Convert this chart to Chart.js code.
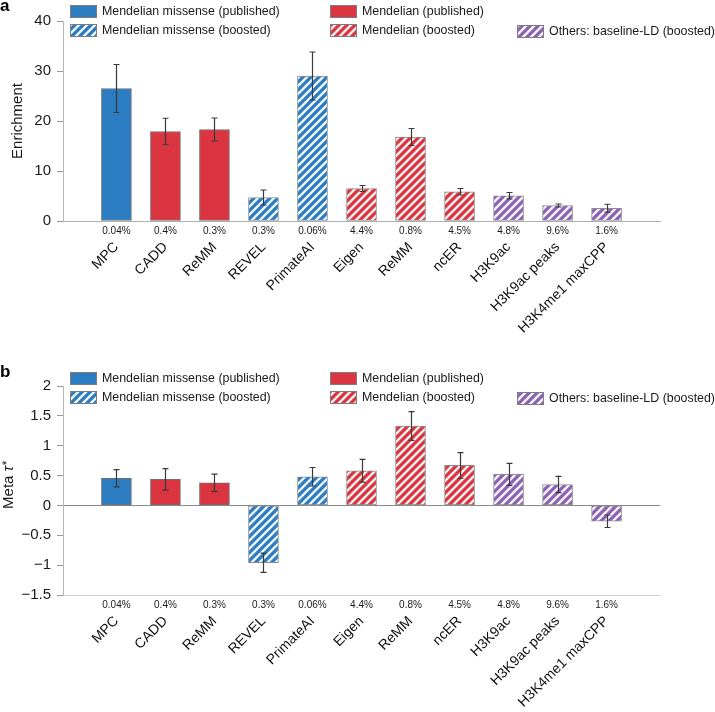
<!DOCTYPE html>
<html>
<head>
<meta charset="utf-8">
<script src="https://cdn.jsdelivr.net/npm/chart.js@4.4.1/dist/chart.umd.min.js"></script>
<style>
  html, body { margin: 0; padding: 0; background: #fff; }
  canvas { display: block; }
</style>
</head>
<body>
<canvas id="chartA" width="715" height="358"></canvas>
<canvas id="chartB" width="715" height="354"></canvas>
<script>
// ---------------- DATA ----------------
const categories = ['MPC', 'CADD', 'ReMM', 'REVEL', 'PrimateAI', 'Eigen', 'ReMM', 'ncER', 'H3K9ac', 'H3K9ac peaks', 'H3K4me1 maxCPP'];
const annotSizes = ['0.04%', '0.4%', '0.3%', '0.3%', '0.06%', '4.4%', '0.8%', '4.5%', '4.8%', '9.6%', '1.6%'];
const groupNames = ['Mendelian missense (published)', 'Mendelian (published)', 'Mendelian missense (boosted)', 'Mendelian (boosted)', 'Others: baseline-LD (boosted)'];
const annotGroup = [0, 1, 1, 2, 2, 3, 3, 3, 4, 4, 4];
const enrichment = [26.5, 17.9, 18.3, 4.7, 29.0, 6.5, 16.8, 5.85, 5.05, 3.1, 2.55];
const enrichmentErr = [4.8, 2.65, 2.3, 1.5, 4.8, 0.6, 1.7, 0.65, 0.65, 0.3, 0.8];
const metaTau = [0.455, 0.435, 0.38, -0.96, 0.48, 0.58, 1.33, 0.67, 0.52, 0.35, -0.265];
const metaTauErr = [0.145, 0.18, 0.145, 0.16, 0.155, 0.19, 0.24, 0.215, 0.185, 0.135, 0.105];
const enrichmentTicks = [0, 10, 20, 30, 40];
const metaTauTicks = [-1.5, -1, -0.5, 0, 0.5, 1, 1.5, 2];

// ---------------- STYLES ----------------
const BLUE = '#2b7cc0', RED = '#da3540', PURPLE = '#8b63b4';
const groupColor = [BLUE, RED, BLUE, RED, PURPLE];
const groupHatched = [false, false, true, true, true];
const FONT = "'Liberation Sans', Arial, Helvetica, sans-serif";

function makeStripe(color) {
  const s = 8;
  const c = document.createElement('canvas');
  c.width = s; c.height = s;
  const g = c.getContext('2d');
  g.fillStyle = color; g.fillRect(0, 0, s, s);
  g.strokeStyle = 'rgba(255,255,255,0.92)';
  g.lineWidth = 2.4;
  g.beginPath();
  g.moveTo(0, s); g.lineTo(s, 0);
  g.moveTo(-s / 2, s / 2); g.lineTo(s / 2, -s / 2);
  g.moveTo(s / 2, s * 1.5); g.lineTo(s * 1.5, s / 2);
  g.stroke();
  return c;
}
const ctxTmp = document.createElement('canvas').getContext('2d');
function groupFill(gi) {
  if (!groupHatched[gi]) return groupColor[gi];
  return ctxTmp.createPattern(makeStripe(groupColor[gi]), 'repeat');
}

const errorBarPlugin = {
  id: 'errorBars',
  afterDatasetsDraw(chart, args, opts) {
    const { ctx } = chart;
    const xs = chart.scales.x, ys = chart.scales.y;
    ctx.save();
    ctx.strokeStyle = '#3a3a3a';
    ctx.lineWidth = 1.2;
    opts.values.forEach((v, i) => {
      const e = opts.errors[i];
      const px = Math.round(xs.getPixelForValue(i)) + 0.5;
      const t = ys.getPixelForValue(v + e), b = ys.getPixelForValue(v - e);
      ctx.beginPath();
      ctx.moveTo(px, t); ctx.lineTo(px, b);
      ctx.moveTo(px - 3, t); ctx.lineTo(px + 3, t);
      ctx.moveTo(px - 3, b); ctx.lineTo(px + 3, b);
      ctx.stroke();
    });
    ctx.restore();
  }
};

const customLegendPlugin = {
  id: 'customLegend',
  afterDraw(chart, args, opts) {
    const { ctx } = chart;
    ctx.save();
    // panel letter
    ctx.fillStyle = '#000';
    ctx.font = 'bold 17px ' + FONT;
    ctx.textBaseline = 'alphabetic';
    ctx.textAlign = 'left';
    ctx.fillText(opts.letter, 0, opts.letterY);
    // legend entries
    const cols = [70, 330, 517];
    const place = [[0, 0], [1, 0], [0, 1], [1, 1], [2, 1]];
    ctx.font = '12.4px ' + FONT;
    chart.data.datasets.forEach((ds, gi) => {
      const [c, r] = place[gi];
      const x = cols[c];
      const y = opts.top + r * 19 + (c === 2 ? 1 : 0);
      ctx.fillStyle = ds.backgroundColor;
      ctx.fillRect(x, y, 27, 13);
      ctx.strokeStyle = '#7d7d7d';
      ctx.lineWidth = 1;
      ctx.strokeRect(x + 0.5, y + 0.5, 26, 12);
      ctx.fillStyle = '#1a1a1a';
      ctx.textBaseline = 'middle';
      ctx.fillText(ds.label, x + 32, y + 7);
    });
    // optional rich y-axis title
    if (opts.yTitle) {
      const yt = opts.yTitle;
      ctx.fillStyle = '#1a1a1a';
      ctx.translate(yt.x, yt.y);
      ctx.rotate(-Math.PI / 2);
      ctx.textBaseline = 'middle';
      ctx.textAlign = 'left';
      ctx.font = '15px ' + FONT;
      const w1 = ctx.measureText('Meta ').width;
      ctx.font = 'italic 15px ' + FONT;
      const w2 = ctx.measureText('τ').width;
      ctx.font = '12px ' + FONT;
      const w3 = ctx.measureText('*').width;
      let x0 = -(w1 + w2 + w3) / 2;
      ctx.font = '15px ' + FONT;
      ctx.fillText('Meta ', x0, 0);
      ctx.font = 'italic 15px ' + FONT;
      ctx.fillText('τ', x0 + w1, 0);
      ctx.font = '12px ' + FONT;
      ctx.fillText('*', x0 + w1 + w2 + 0.5, -1);
    }
    ctx.restore();
  }
};

function buildChart(canvasId, values, errors, yTicks, cfg) {
  const datasets = groupNames.map((name, gi) => ({
    label: name,
    data: annotGroup.map((g, i) => g === gi ? { x: i, y: values[i] } : null).filter(d => d),
    backgroundColor: groupFill(gi),
    borderColor: groupHatched[gi] ? '#8d8d8d' : '#6f6f6f',
    borderWidth: 1,
    borderSkipped: false,
    barThickness: 30,
    grouped: false
  }));
  const xMin = -1.09, xMax = categories.length - 1 + 1.09;
  const setTicks = axis => { axis.ticks = categories.map((c, i) => ({ value: i })); };
  return new Chart(document.getElementById(canvasId), {
    type: 'bar',
    data: { datasets },
    options: {
      responsive: false,
      animation: false,
      layout: { padding: { top: cfg.top, right: 55, left: 0, bottom: 0 } },
      plugins: {
        legend: { display: false },
        tooltip: { enabled: false },
        errorBars: { values, errors },
        customLegend: { letter: cfg.letter, letterY: cfg.letterY, top: cfg.legendTop, yTitle: cfg.yTitle }
      },
      scales: {
        x: {
          type: 'linear', position: 'bottom', weight: 0, offset: false,
          min: xMin, max: xMax,
          afterBuildTicks: setTicks,
          afterFit: s => { s.height = 16; },
          grid: { display: false, drawTicks: false, offset: false },
          border: { display: true, color: cfg.bottomBorder, width: 1 },
          ticks: {
            autoSkip: false, maxRotation: 0, minRotation: 0, padding: 4,
            color: '#1a1a1a', font: { size: 10, family: FONT },
            callback: v => annotSizes[v] ?? ''
          }
        },
        names: {
          type: 'linear', position: 'bottom', weight: 1, offset: false,
          min: xMin, max: xMax,
          afterBuildTicks: setTicks,
          afterFit: s => { s.height = cfg.namesHeight; },
          grid: { display: false, drawTicks: false, offset: false },
          border: { display: false },
          ticks: {
            autoSkip: false, maxRotation: 45, minRotation: 45, padding: 2,
            color: '#111', font: { size: 14, family: FONT },
            callback: v => categories[v] ?? ''
          }
        },
        y: {
          min: yTicks[0], max: yTicks[yTicks.length - 1],
          afterBuildTicks: axis => { axis.ticks = yTicks.map(v => ({ value: v })); },
          afterFit: s => { s.width = 63; },
          grid: {
            drawOnChartArea: true, drawTicks: true, tickLength: 6,
            color: ctx => (cfg.zeroLine && ctx.tick && ctx.tick.value === 0) ? '#8a8a8a' : 'rgba(0,0,0,0)',
            tickColor: '#9a9a9a'
          },
          border: { display: true, color: '#b5b5b5', width: 1 },
          ticks: {
            padding: 6, color: '#1a1a1a', font: { size: 15, family: FONT },
            callback: v => String(v).replace('-', '\u2212')
          },
          title: cfg.yTitleText ? {
            display: true, text: cfg.yTitleText, color: '#1a1a1a',
            font: { size: 15, family: FONT }, padding: { top: 9, bottom: 0 }
          } : { display: false }
        }
      }
    },
    plugins: [errorBarPlugin, customLegendPlugin]
  });
}

buildChart('chartA', enrichment, enrichmentErr, enrichmentTicks, {
  top: 21, letter: 'a', letterY: 11, legendTop: 5, namesHeight: 121,
  bottomBorder: '#b0b0b0', zeroLine: false, yTitleText: 'Enrichment'
});
buildChart('chartB', metaTau, metaTauErr, metaTauTicks, {
  top: 28, letter: 'b', letterY: 19, legendTop: 14, namesHeight: 101,
  bottomBorder: '#d0d0d0', zeroLine: true, yTitleText: null,
  yTitle: { x: 9, y: 127 }
});
</script>
</body>
</html>
